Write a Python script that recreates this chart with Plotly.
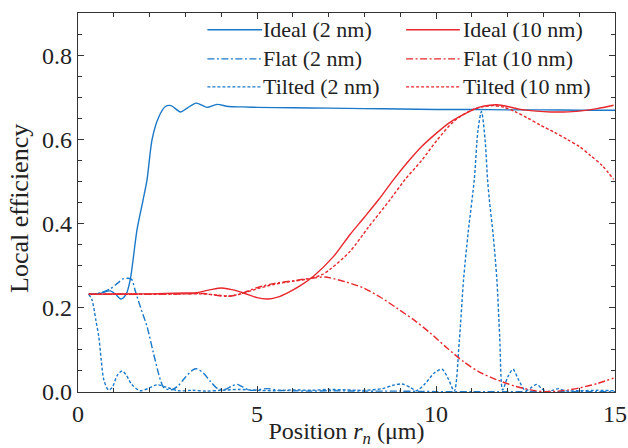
import plotly.graph_objects as go

# ---- data ----
ideal2_x = [0.3, 0.6, 0.9, 1.05, 1.2, 1.35, 1.46, 1.65, 1.82, 1.93, 2.07, 2.25, 2.44, 2.6, 2.86, 3.05, 3.3, 3.6, 3.88, 4.2, 4.6, 5, 6, 7, 8, 9, 10, 11, 12, 13, 14, 15]
ideal2_y = [0.232, 0.234, 0.240, 0.232, 0.221, 0.233, 0.267, 0.386, 0.457, 0.505, 0.600, 0.652, 0.678, 0.680, 0.665, 0.674, 0.686, 0.676, 0.683, 0.678, 0.677, 0.676, 0.675, 0.674, 0.673, 0.672, 0.671, 0.671, 0.670, 0.670, 0.669, 0.669]

flat2_x = [0.3, 0.6, 0.9, 1.1, 1.27, 1.4, 1.5, 1.6, 1.75, 1.93, 2.1, 2.3, 2.4, 2.6, 2.8, 3.0, 3.2, 3.32, 3.5, 3.7, 3.9, 4.1, 4.3, 4.45, 4.6, 4.8, 5.0, 5.3, 5.6, 6, 6.5, 7, 8, 9, 10, 11, 12, 13, 14, 15]
flat2_y = [0.232, 0.235, 0.245, 0.258, 0.269, 0.270, 0.267, 0.240, 0.200, 0.155, 0.095, 0.029, 0.010, 0.005, 0.015, 0.035, 0.052, 0.055, 0.045, 0.025, 0.008, 0.006, 0.014, 0.018, 0.012, 0.004, 0.005, 0.008, 0.004, 0.003, 0.002, 0.003, 0.002, 0.002, 0.001, 0.001, 0.001, 0.001, 0.001, 0.001]

tilted2_x = [0.3, 0.39, 0.5, 0.58, 0.65, 0.72, 0.85, 0.95, 1.1, 1.23, 1.35, 1.5, 1.73, 1.95, 2.2, 2.45, 2.8, 3.2, 3.6, 4, 4.5, 5, 5.5, 6, 6.5, 7, 7.5, 8, 8.5, 8.8, 9.05, 9.3, 9.45, 9.7, 9.95, 10.17, 10.35, 10.51, 10.65, 10.77, 10.9, 11.07, 11.17, 11.27, 11.37, 11.44, 11.49, 11.6, 11.7, 11.78, 11.86, 12.0, 12.15, 12.3, 12.5, 12.65, 12.82, 12.95, 13.1, 13.25, 13.42, 13.6, 14, 14.5, 15]
tilted2_y = [0.232, 0.219, 0.170, 0.132, 0.075, 0.029, 0.005, 0.010, 0.040, 0.050, 0.040, 0.018, 0.003, 0.008, 0.017, 0.012, 0.003, 0.004, 0.002, 0.004, 0.006, 0.004, 0.003, 0.005, 0.004, 0.006, 0.005, 0.004, 0.008, 0.016, 0.019, 0.010, 0.003, 0.020, 0.045, 0.054, 0.030, 0.002, 0.120, 0.267, 0.380, 0.505, 0.620, 0.666, 0.600, 0.505, 0.457, 0.370, 0.267, 0.130, 0.005, 0.035, 0.054, 0.030, 0.003, 0.010, 0.018, 0.008, 0.001, 0.004, 0.008, 0.003, 0.003, 0.004, 0.003]

ideal10_x = [0.3, 1, 2, 3, 3.32, 3.7, 4.02, 4.3, 4.63, 5.0, 5.32, 5.6, 5.84, 6.2, 6.58, 7.14, 7.6, 8.0, 8.4, 8.82, 9.2, 9.6, 10.03, 10.35, 10.68, 11.0, 11.24, 11.5, 11.7, 12.0, 12.35, 12.8, 13.2, 13.56, 14.0, 14.5, 14.96]
ideal10_y = [0.232, 0.233, 0.233, 0.235, 0.236, 0.243, 0.247, 0.243, 0.235, 0.224, 0.221, 0.226, 0.235, 0.252, 0.275, 0.322, 0.374, 0.415, 0.457, 0.505, 0.545, 0.583, 0.616, 0.638, 0.655, 0.669, 0.677, 0.681, 0.682, 0.678, 0.671, 0.667, 0.665, 0.665, 0.667, 0.673, 0.681]

flat10_x = [0.3, 1, 2, 3, 3.5, 3.9, 4.2, 4.5, 5.0, 5.5, 6.0, 6.5, 6.9, 7.05, 7.5, 7.98, 8.45, 8.91, 9.4, 9.84, 10.3, 10.77, 11.2, 11.7, 12.2, 12.64, 13.0, 13.4, 13.7, 14.03, 14.5, 14.96]
flat10_y = [0.232, 0.232, 0.232, 0.233, 0.234, 0.229, 0.227, 0.232, 0.248, 0.258, 0.264, 0.270, 0.273, 0.271, 0.261, 0.247, 0.225, 0.199, 0.170, 0.140, 0.105, 0.072, 0.048, 0.029, 0.014, 0.005, 0.001, 0.002, 0.005, 0.010, 0.020, 0.033]

tilted10_x = [0.3, 1, 2, 3, 3.5, 3.9, 4.2, 4.5, 5.0, 5.5, 6.0, 6.4, 6.8, 7.05, 7.6, 8.1, 8.72, 9.14, 9.6, 10.03, 10.5, 11.0, 11.3, 11.6, 11.9, 12.2, 12.55, 12.91, 13.3, 13.66, 14.0, 14.31, 14.65, 14.96]
tilted10_y = [0.232, 0.232, 0.232, 0.233, 0.233, 0.230, 0.228, 0.232, 0.245, 0.256, 0.263, 0.268, 0.278, 0.292, 0.334, 0.390, 0.457, 0.505, 0.550, 0.598, 0.643, 0.670, 0.677, 0.680, 0.676, 0.666, 0.651, 0.634, 0.617, 0.600, 0.583, 0.562, 0.537, 0.505]

x_ticks = [0, 5, 10, 15]
y_ticks = [0.0, 0.2, 0.4, 0.6, 0.8]

BLUE = "#1a78c8"
RED = "#e8262c"
DASHDOT = "7px,2.5px,2px,2.5px"
DOT = "3px,2px"
FONT = "Times New Roman, Liberation Serif, serif"

series = [
    ("Ideal (2 nm)", ideal2_x, ideal2_y, BLUE, "solid"),
    ("Flat (2 nm)", flat2_x, flat2_y, BLUE, DASHDOT),
    ("Tilted (2 nm)", tilted2_x, tilted2_y, BLUE, DOT),
    ("Ideal (10 nm)", ideal10_x, ideal10_y, RED, "solid"),
    ("Flat (10 nm)", flat10_x, flat10_y, RED, DASHDOT),
    ("Tilted (10 nm)", tilted10_x, tilted10_y, RED, DOT),
]

fig = go.Figure()
for name, x, y, color, dash in series:
    fig.add_trace(go.Scatter(
        x=x, y=y, name=name, mode="lines", showlegend=False,
        line=dict(color=color, width=1.4, dash=dash, shape="spline", smoothing=0.8),
    ))

# two-column legend, laid out in paper coordinates
leg_rows = [0.956, 0.879, 0.805]
leg_cols = [(0.241, 0.343, 0.341), (0.611, 0.711, 0.713)]
for i, (name, x, y, color, dash) in enumerate(series):
    col, row = divmod(i, 3)
    x0, x1, xt = leg_cols[col]
    yy = leg_rows[row]
    fig.add_shape(type="line", xref="paper", yref="paper", x0=x0, x1=x1, y0=yy, y1=yy,
                  line=dict(color=color, width=1.4, dash=dash))
    fig.add_annotation(xref="paper", yref="paper", x=xt, y=yy, text=name, showarrow=False,
                       xanchor="left", yanchor="middle",
                       font=dict(family=FONT, size=22, color="#222222"))

# y-axis title
fig.add_annotation(xref="paper", yref="paper", x=-0.108, y=0.483, text="Local efficiency",
                   showarrow=False, textangle=-90, xanchor="center", yanchor="middle",
                   font=dict(family=FONT, size=26, color="#222222"))

axis_common = dict(
    showline=True, linecolor="#333333", linewidth=1.3, mirror="ticks",
    ticks="inside", ticklen=6, tickwidth=1.1, tickcolor="#333333",
    showgrid=False, zeroline=False,
    tickfont=dict(family=FONT, size=24, color="#222222"),
)

fig.update_layout(
    width=628, height=448,
    margin=dict(l=78, r=13, t=13, b=56),
    paper_bgcolor="white", plot_bgcolor="white",
    font=dict(family=FONT, color="#222222"),
    showlegend=False,
    xaxis=dict(
        range=[0, 15], tickvals=x_ticks, ticktext=[str(v) for v in x_ticks],
        minor=dict(dtick=1, ticks="inside", ticklen=4, tickcolor="#333333", showgrid=False),
        title=dict(text="Position <i>r<sub>n</sub></i> (μm)", font=dict(family=FONT, size=24), standoff=8),
        automargin=False,
        **axis_common,
    ),
    yaxis=dict(
        range=[0, 0.9], tickvals=y_ticks, ticktext=[f"{v:.1f}" for v in y_ticks],
        minor=dict(dtick=0.05, ticks="inside", ticklen=4, tickcolor="#333333", showgrid=False),
        automargin=False,
        **axis_common,
    ),
)

fig.write_html(
    "out.html",
    config={"displayModeBar": False},
    post_script="document.body.style.margin='0';document.body.style.overflow='hidden';",
)
